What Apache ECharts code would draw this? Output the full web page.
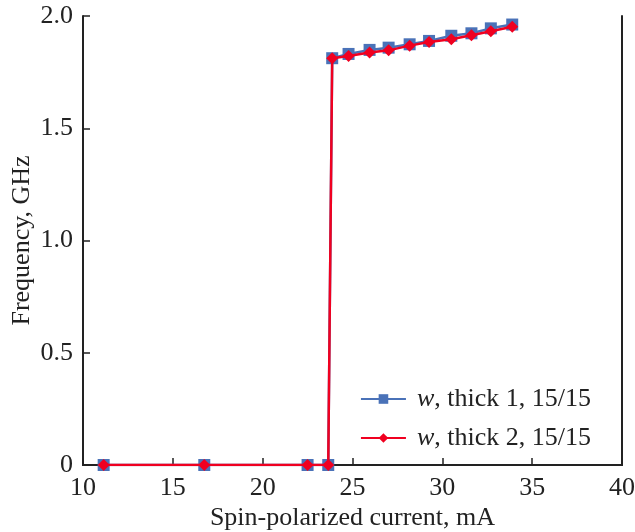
<!DOCTYPE html>
<html><head><meta charset="utf-8">
<script src="https://cdn.jsdelivr.net/npm/echarts@6/dist/echarts.min.js"></script>
<style>html,body{margin:0;padding:0;background:#fff}#c{width:635px;height:532px}</style>
</head><body><div id="c"></div>
<script>
const xTicks = [10, 15, 20, 25, 30, 35, 40];
const yTicks = [0, 0.5, 1.0, 1.5, 2.0];
const current1 = [11.15, 16.75, 22.5, 23.65, 23.87, 24.78, 25.95, 27.01, 28.18, 29.26, 30.5, 31.62, 32.7, 33.89];
const freq1 = [0, 0, 0, 0, 1.812, 1.831, 1.849, 1.859, 1.874, 1.889, 1.912, 1.923, 1.945, 1.962];
const current2 = [11.15, 16.75, 22.5, 23.65, 23.87, 24.78, 25.95, 27.01, 28.18, 29.26, 30.5, 31.62, 32.7, 33.89];
const freq2 = [0, 0, 0, 0, 1.812, 1.822, 1.837, 1.847, 1.868, 1.884, 1.896, 1.914, 1.932, 1.952];
const seriesNames = ['{i|w}, thick 1, 15/15', '{i|w}, thick 2, 15/15'];

const font = 'Liberation Serif';
const chart = echarts.init(document.getElementById('c'), null, {renderer: 'canvas'});
chart.setOption({
  animation: false,
  grid: {left: 83, right: 13, top: 16, bottom: 67, containLabel: false, outerBoundsMode: 'none'},
  xAxis: [{
    type: 'value', min: xTicks[0], max: xTicks[xTicks.length-1], interval: 5,
    name: 'Spin-polarized current, mA', nameLocation: 'middle', nameGap: 40, nameMoveOverlap: false,
    nameTextStyle: {fontFamily: font, fontSize: 26, color: '#222'},
    axisLine: {show: true, onZero: false, lineStyle: {color: '#222', width: 2}},
    axisTick: {inside: true, length: 7, lineStyle: {color: '#222', width: 1.5}},
    axisLabel: {fontFamily: font, fontSize: 26, color: '#222', margin: 10},
    splitLine: {show: false}
  }, {
    type: 'value', position: 'top', min: 10, max: 40,
    axisLine: {show: true, lineStyle: {color: '#222', width: 2}},
    axisTick: {show: false}, axisLabel: {show: false}, splitLine: {show: false}
  }],
  yAxis: [{
    type: 'value', min: yTicks[0], max: yTicks[yTicks.length-1], interval: 0.5,
    name: 'Frequency, GHz', nameLocation: 'middle', nameGap: 48, nameMoveOverlap: false,
    nameTextStyle: {fontFamily: font, fontSize: 26, color: '#222'},
    axisLine: {show: true, onZero: false, lineStyle: {color: '#222', width: 2}},
    axisTick: {inside: true, length: 7, lineStyle: {color: '#222', width: 1.5}},
    axisLabel: {fontFamily: font, fontSize: 26, color: '#222', margin: 10,
      formatter: v => v === 0 ? '0' : v.toFixed(1)},
    splitLine: {show: false}
  }, {
    type: 'value', position: 'right', min: 0, max: 2,
    axisLine: {show: true, lineStyle: {color: '#222', width: 2}},
    axisTick: {show: false}, axisLabel: {show: false}, splitLine: {show: false}
  }],
  legend: {
    orient: 'vertical', right: 39, top: 381, itemGap: 13,
    itemWidth: 45, itemHeight: 12,
    data: [seriesNames[0], seriesNames[1]],
    textStyle: {fontFamily: font, fontSize: 26, color: '#222', padding: [0, 0, 0, 6],
      rich: {i: {fontFamily: font, fontStyle: 'italic', fontSize: 26, color: '#222'}}}
  },
  series: [{
    name: seriesNames[0], type: 'line',
    data: current1.map((x, i) => [x, freq1[i]]),
    symbol: 'rect', symbolSize: 12,
    itemStyle: {color: '#4a72b8'},
    lineStyle: {color: '#4a72b8', width: 2.5},
    z: 2
  }, {
    name: seriesNames[1], type: 'line',
    data: current2.map((x, i) => [x, freq2[i]]),
    symbol: 'diamond', symbolSize: 12,
    itemStyle: {color: '#f00020'},
    lineStyle: {color: '#f00020', width: 2.5},
    z: 3
  }]
});
</script></body></html>
